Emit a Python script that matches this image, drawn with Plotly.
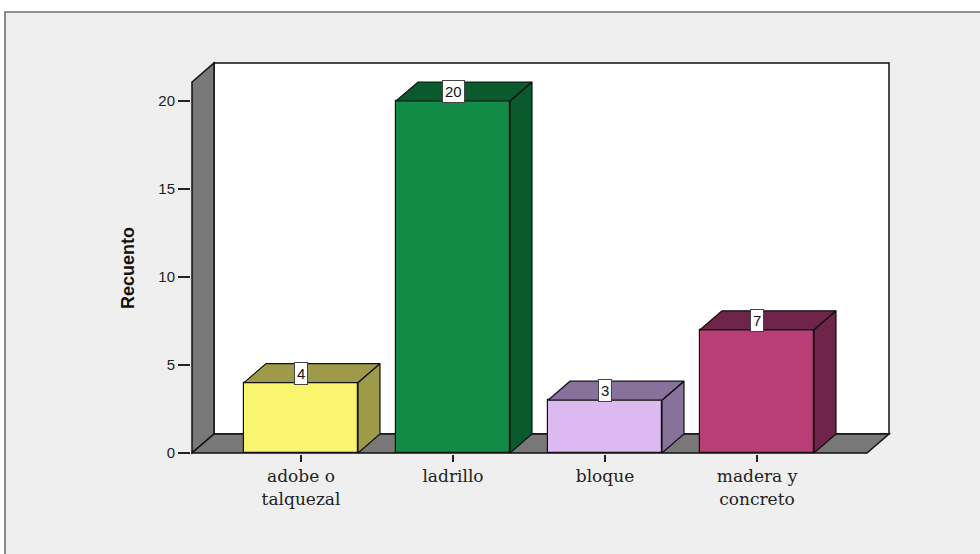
import plotly.graph_objects as go

# ---- data ----
categories = ["adobe o<br>talquezal", "ladrillo", "bloque", "madera y<br>concreto"]
counts = [4, 20, 3, 7]
front_colors = ["#FAF56E", "#128B46", "#DDB9F1", "#B93E78"]
dark_colors = ["#9E9A4A", "#0B5A2D", "#88719A", "#6F2549"]
y_tickvals = [0, 5, 10, 15, 20]
y_title = "Recuento"

# ---- layout geometry (pixels) ----
W, H = 980, 554
L, R, T, B = 191, 893, 60, 454
PX_PER_CAT = 152.0
PX_PER_UNIT = 17.6
ZERO_PX = 453
CAT0_PX = 301
DEPTH_X_PX, DEPTH_Y_PX = 22, 19

def xd(px):
    return (px - CAT0_PX) / PX_PER_CAT

def yd(py):
    return (ZERO_PX - py) / PX_PER_UNIT

def xp(px):
    return (px - L) / (R - L)

def yp(py):
    return (B - py) / (B - T)

DX = DEPTH_X_PX / PX_PER_CAT
DY = DEPTH_Y_PX / PX_PER_UNIT
BAR_W = 0.75
XW = xd(192)        # left wall front edge
XR = xd(867)        # floor front right end
YTOP = yd(63)       # top of back wall

x_idx = list(range(len(categories)))

fig = go.Figure()

# front faces
fig.add_trace(go.Bar(
    x=x_idx, y=counts, width=BAR_W,
    marker=dict(color=front_colors, line=dict(color="#111", width=1.2)),
    hoverinfo="skip", showlegend=False))

# top + side faces
for i, v in enumerate(counts):
    xl, xr = i - BAR_W / 2, i + BAR_W / 2
    xs = [xl, xl + DX, xr + DX, xr, xl, None,
          xr, xr + DX, xr + DX, xr, xr]
    ys = [v, v + DY, v + DY, v, v, None,
          v, v + DY, DY, 0, v]
    fig.add_trace(go.Scatter(
        x=xs, y=ys, mode="lines", fill="toself",
        fillcolor=dark_colors[i], line=dict(color="#111", width=1.2),
        hoverinfo="skip", showlegend=False))

# value labels
for i, v in enumerate(counts):
    fig.add_annotation(
        x=i, y=v + DY / 2, text=str(v), showarrow=False,
        xref="x", yref="y", yanchor="middle",
        font=dict(family="Liberation Sans, Arial, sans-serif", size=15, color="#111"),
        bgcolor="white", bordercolor="#444", borderwidth=1, borderpad=2)

shapes = []
# outer frame
shapes.append(dict(type="rect", xref="paper", yref="paper",
                   x0=xp(-20), x1=xp(1000), y0=yp(12), y1=yp(-20),
                   fillcolor="white", line=dict(width=0), layer="below"))
shapes.append(dict(type="rect", xref="paper", yref="paper",
                   x0=xp(-20), x1=xp(5), y0=yp(600), y1=yp(-20),
                   fillcolor="white", line=dict(width=0), layer="below"))
shapes.append(dict(type="rect", xref="paper", yref="paper",
                   x0=xp(5), x1=xp(1010), y0=yp(12), y1=yp(620),
                   fillcolor="rgba(0,0,0,0)", line=dict(color="#6f6f6f", width=1.6)))

# back wall
shapes.append(dict(type="rect", xref="x", yref="y",
                   x0=XW + DX, x1=XR + DX, y0=DY, y1=YTOP,
                   fillcolor="white", line=dict(color="#111", width=1.5), layer="below"))
# left wall
shapes.append(dict(type="path", xref="x", yref="y",
                   path=f"M {XW},0 L {XW},{YTOP - DY} L {XW + DX},{YTOP} L {XW + DX},{DY} Z",
                   fillcolor="#787878", line=dict(color="#111", width=1.5), layer="below"))
# floor
shapes.append(dict(type="path", xref="x", yref="y",
                   path=f"M {XW},0 L {XR},0 L {XR + DX},{DY} L {XW + DX},{DY} Z",
                   fillcolor="#787878", line=dict(color="#111", width=1.5), layer="below"))

fig.add_annotation(
    x=xp(128), y=yp(268), xref="paper", yref="paper", text="<b>" + y_title + "</b>",
    textangle=-90, showarrow=False, xanchor="center", yanchor="middle",
    font=dict(family="Liberation Sans Narrow, Arial Narrow, Liberation Sans, sans-serif",
              size=18, color="#111"))

fig.update_layout(
    width=W, height=H,
    margin=dict(l=L, r=W - R, t=T, b=H - B, pad=0),
    paper_bgcolor="#efefef", plot_bgcolor="#efefef",
    shapes=shapes, showlegend=False, bargap=0,
    xaxis=dict(range=[xd(L), xd(R)], tickmode="array", tickvals=x_idx,
               ticktext=categories, ticks="outside", ticklen=7, tickwidth=1.5,
               tickcolor="#222", showgrid=False, zeroline=False, showline=False,
               tickfont=dict(family="DejaVu Serif, serif", size=17, color="#222"),
               fixedrange=True),
    yaxis=dict(range=[yd(B), yd(T)], tickmode="array", tickvals=y_tickvals,
               ticks="outside", ticklen=12, tickwidth=1.5, tickcolor="#222",
               showgrid=False, zeroline=False, showline=False,
               tickfont=dict(family="Liberation Sans, Arial, sans-serif", size=15, color="#222"),
               fixedrange=True),
)

fig.write_html("out.html", config={"displayModeBar": False},
               post_script="document.body.style.margin='0';document.body.style.overflow='hidden';")
